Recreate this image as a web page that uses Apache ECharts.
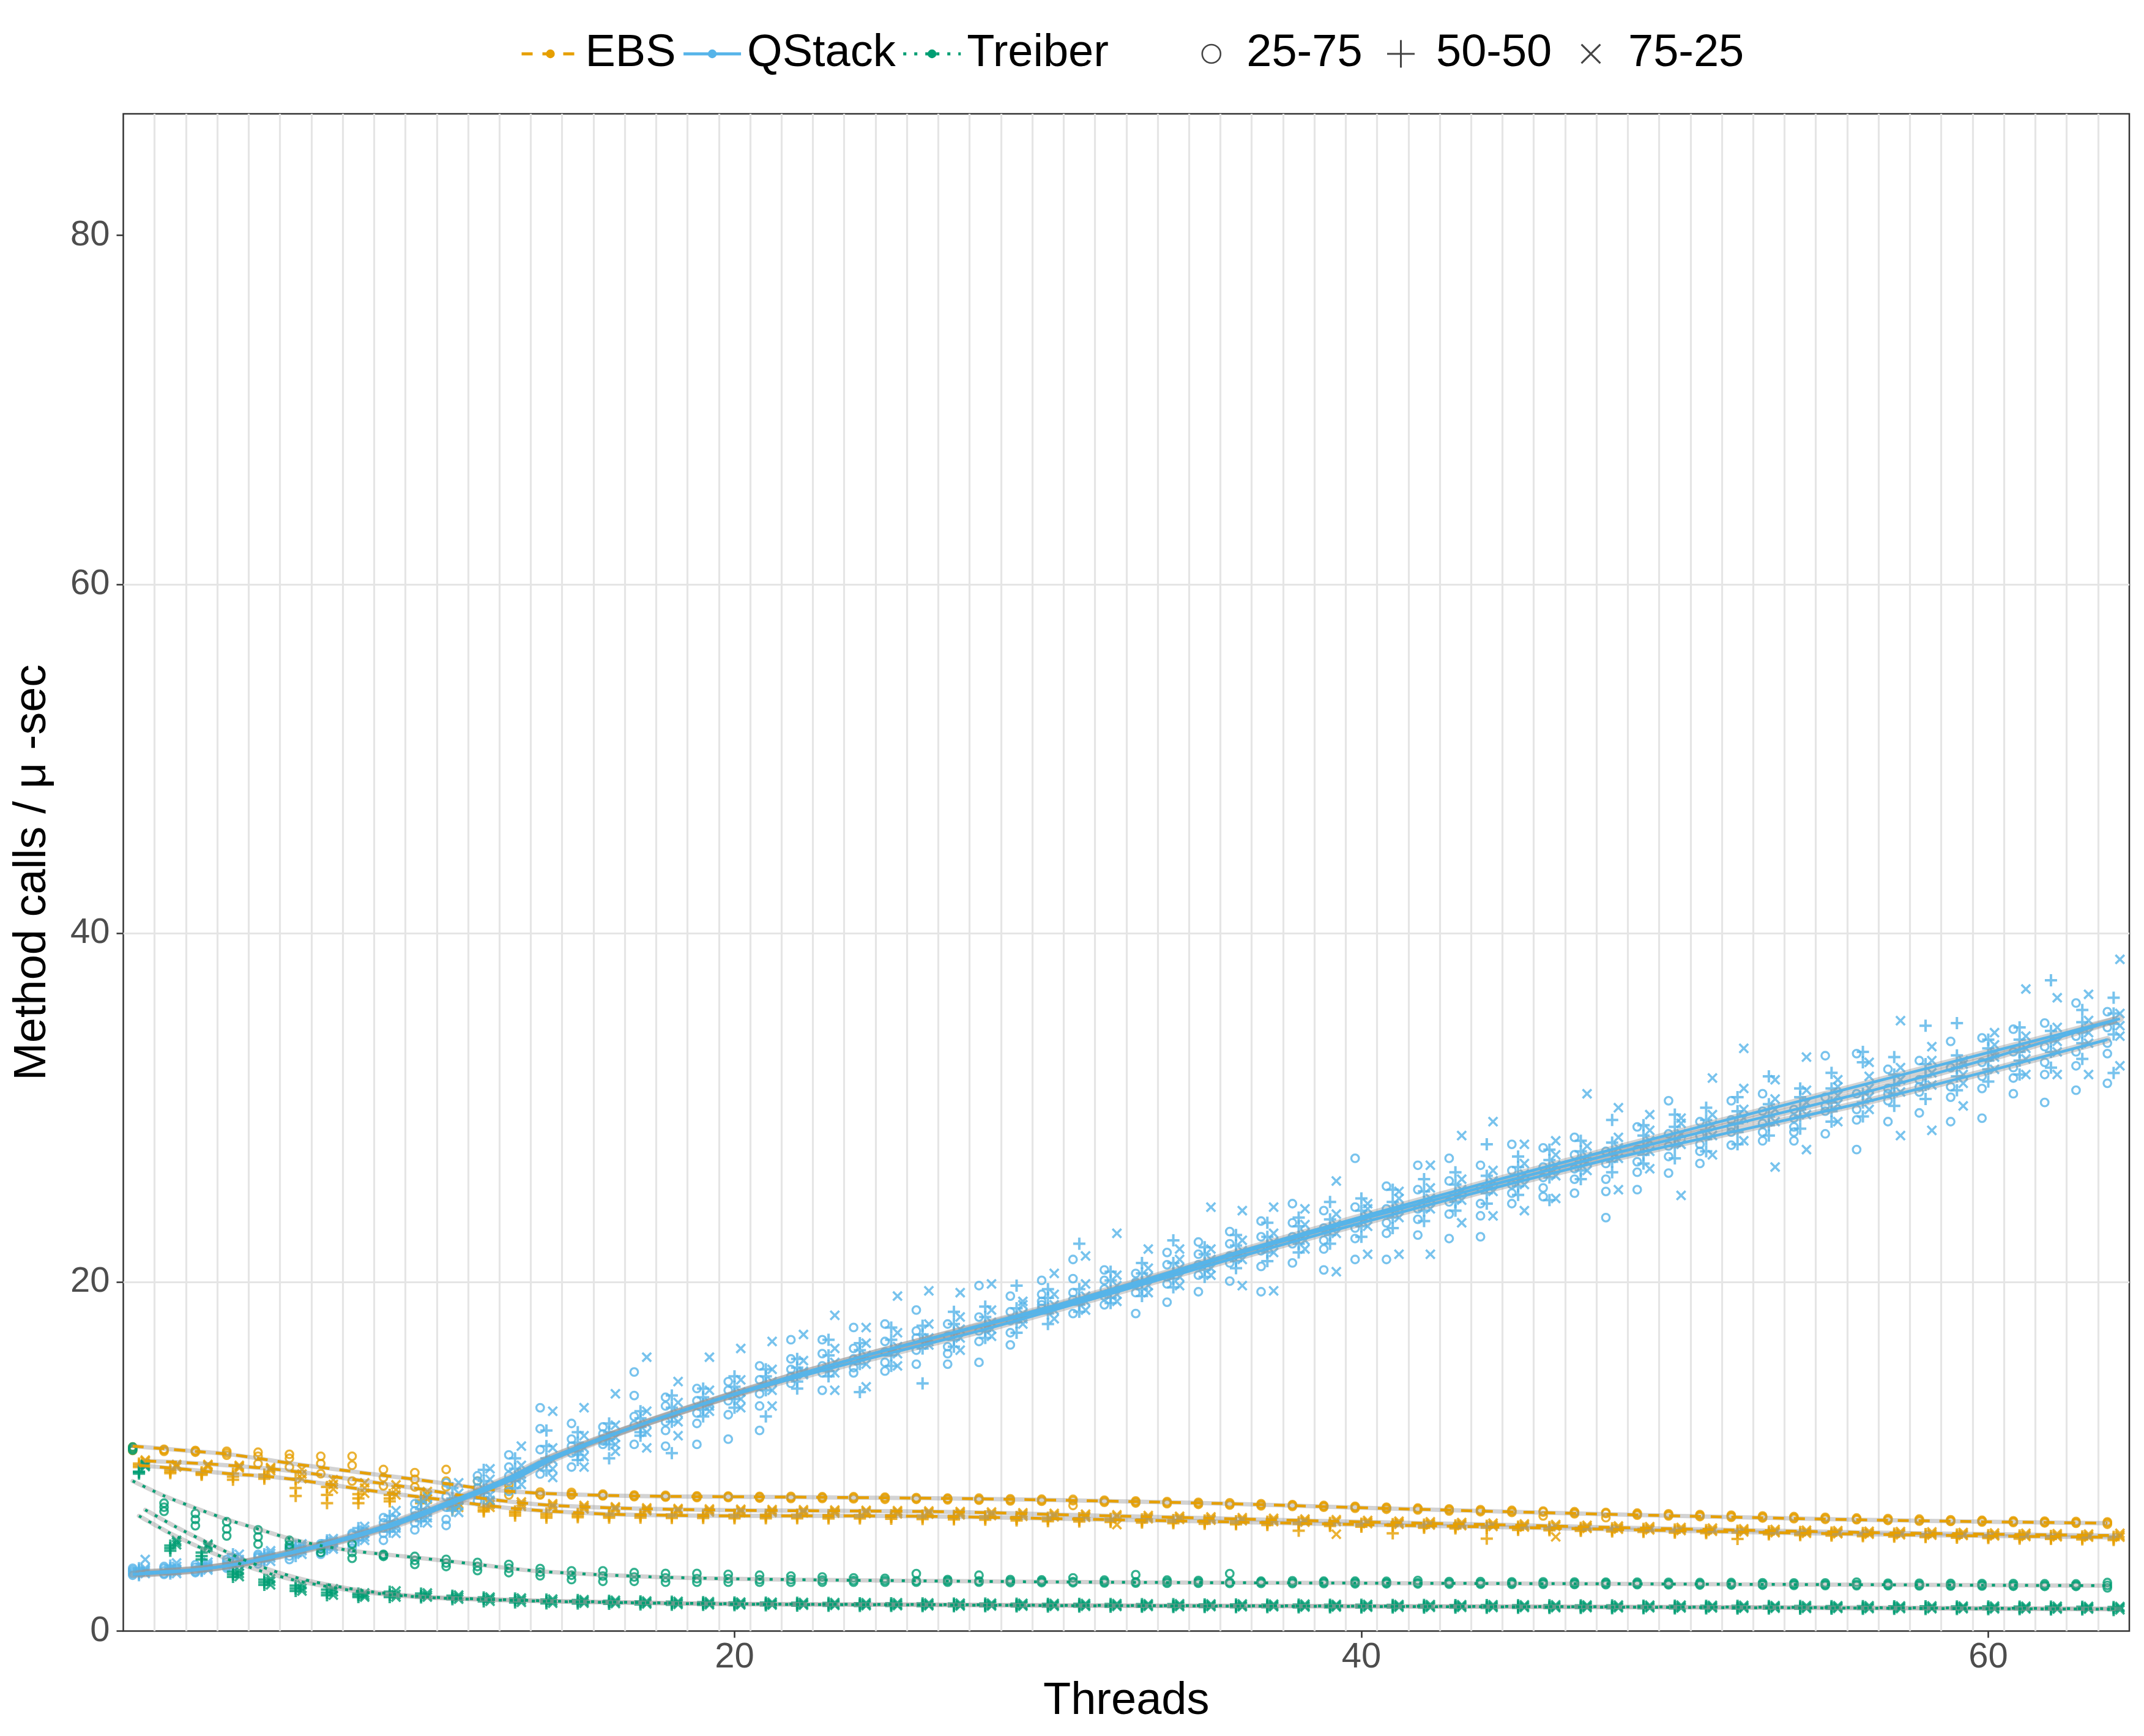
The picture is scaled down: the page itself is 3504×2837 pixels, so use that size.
<!DOCTYPE html>
<html>
<head>
<meta charset="utf-8">
<script src="https://cdn.jsdelivr.net/npm/echarts@6/dist/echarts.min.js"></script>
<style>
html,body{margin:0;padding:0;background:#fff;}
#chart{width:3504px;height:2837px;}
</style>
</head>
<body>
<div id="chart"></div>
<script>
// ---------------- data ----------------
const threads = [1,2,3,4,5,6,7,8,9,10,11,12,13,14,15,16,17,18,19,20,21,22,23,24,25,26,27,28,29,30,31,32,
  33,34,35,36,37,38,39,40,41,42,43,44,45,46,47,48,49,50,51,52,53,54,55,56,57,58,59,60,61,62,63,64];
const implementations = ['EBS','QStack','Treiber'];
const mixes = ['25-75','50-50','75-25'];
const yTickLabels = [0,20,40,60,80];
const xTickLabels = [20,40,60];

// runs per thread (method calls / µ-sec)
const qstack25 = [[3.2,3.5,3.3,3.6,3.4],[3.3,3.6,3.25,3.45,3.7],[3.4,3.8,3.5,3.65,3.35],[3.7,4.1,3.8,3.6,3.95],[4.0,4.4,3.85,4.2,4.3],
[4.3,4.85,4.5,4.1,4.65],[4.8,4.5,5.0,4.4,4.9],[5.3,5.6,4.75,5.05,5.5],[5.9,6.5,5.2,6.2,5.6],[6.6,7.3,5.8,6.9,6.2],
[7.1,8.5,6.4,7.7,6.05],[8.2,8.9,7.45,8.6,7.8],[8.6,10.1,8.0,9.4,8.9],[9.5,12.8,9.0,10.4,11.6],[10.2,11.9,9.4,11.0,10.6],
[11.0,11.7,10.7,11.3,10.9],[12.3,14.85,10.7,13.5,11.8],[12.0,13.4,10.6,12.9,11.5],[12.5,13.9,10.7,13.2,11.9],[13.2,14.3,11.0,13.8,12.4],
[13.6,15.2,11.5,14.4,12.9],[15.0,16.7,14.2,15.6,14.6],[14.8,16.7,13.8,15.9,15.2],[15.6,17.4,14.8,16.2,15.1],[16.0,17.6,14.9,16.6,15.4],
[16.8,18.4,15.3,17.2,16.1],[16.3,17.6,15.3,16.9,15.9],[17.2,19.8,15.4,18.0,16.6],[17.8,19.2,16.4,18.3,17.1],[18.9,20.1,18.5,19.3,18.7],
[19.4,21.3,18.2,20.2,19.0],[19.6,20.7,18.7,20.1,19.2],[19.9,20.5,18.2,19.4,20.0],[20.3,21.7,18.85,21.0,19.9],[21.0,22.3,19.45,21.6,20.4],
[21.5,22.9,20.06,22.2,21.1],[21.8,23.5,19.45,22.6,20.9],[22.6,24.5,21.1,23.4,22.2],[22.4,24.1,20.7,23.1,21.9],[23.1,27.1,21.3,24.3,22.5],
[23.4,25.5,21.3,24.2,22.8],[24.2,26.7,22.7,25.3,23.6],[24.6,27.1,22.5,25.8,23.9],[24.5,26.7,22.6,25.4,23.8],[25.6,27.9,24.5,26.4,25.1],
[26.0,27.7,24.9,26.6,25.4],[26.5,28.3,25.1,27.3,25.9],[25.9,27.5,23.7,26.8,25.2],[26.9,28.9,25.3,27.6,26.3],[27.8,30.4,26.25,28.5,27.2],
[27.9,29.2,26.8,28.4,27.5],[28.6,30.4,27.85,29.3,28.9],[29.1,30.8,28.1,29.8,28.6],[28.9,29.9,28.1,29.4,28.6],[29.8,32.98,28.5,30.6,30.1],
[29.9,33.1,27.6,30.8,29.3],[30.4,32.2,29.2,31.1,30.8],[30.9,32.7,29.7,31.6,31.2],[31.2,33.8,29.2,32.3,30.6],[31.8,34.0,29.4,32.6,31.1],
[32.3,34.5,30.8,33.2,31.7],[32.6,34.85,30.3,33.5,31.9],[33.2,36.0,31.0,34.1,32.4],[33.7,35.5,31.4,34.6,33.1]];

const qstack50 = [[3.3,3.5,3.2,3.6,3.4],[3.4,3.6,3.3,3.75,3.5],[3.5,3.7,3.45,3.85,3.6],[3.8,4.2,3.7,4.4,3.9],[4.1,4.4,4.0,4.3,4.2],
[4.5,4.8,4.3,4.9,4.6],[5.0,4.8,5.2,4.7,5.1],[5.5,5.9,5.2,5.7,5.4],[6.0,6.6,5.7,6.3,5.9],[6.7,7.4,6.3,7.0,6.5],
[7.3,8.2,6.9,7.6,7.1],[8.1,9.24,7.6,8.6,7.9],[8.8,9.9,8.2,9.3,8.6],[9.7,10.6,9.2,11.5,9.9],[10.3,11.4,9.8,10.8,10.1],
[11.0,11.9,9.9,11.4,10.7],[11.7,12.6,11.2,12.2,11.4],[12.3,13.5,10.2,12.8,12.0],[13.0,13.9,12.3,13.4,12.7],[13.6,14.6,12.8,14.0,13.3],
[14.2,15.0,12.3,14.6,13.8],[14.7,15.6,13.9,15.1,14.3],[15.2,16.7,14.6,15.8,14.9],[15.7,16.5,13.7,16.1,15.3],[16.1,17.4,15.2,16.7,15.8],
[16.6,17.5,14.2,17.0,16.2],[17.1,18.3,16.3,17.6,16.7],[17.5,18.6,16.8,18.0,17.2],[18.0,19.8,17.1,18.5,17.7],[18.5,19.6,17.6,19.1,18.2],
[19.0,22.2,18.3,19.6,18.7],[19.5,20.6,18.8,20.1,19.1],[20.0,21.1,19.2,20.5,19.6],[20.5,22.4,19.7,21.1,20.2],[21.1,22.0,20.3,21.6,20.7],
[21.6,22.7,20.8,22.1,21.2],[22.1,23.4,21.2,22.6,21.7],[22.6,23.7,21.7,23.2,22.2],[23.1,24.6,22.2,23.6,22.7],[23.6,24.8,22.6,24.1,23.2],
[24.1,25.3,23.1,24.6,23.7],[24.6,25.9,23.5,25.2,24.1],[25.0,26.3,24.1,25.6,24.6],[25.5,27.9,24.5,26.1,25.1],[25.9,27.2,25.0,26.6,25.5],
[26.4,27.6,24.7,27.0,26.0],[26.9,28.1,25.9,27.5,26.4],[27.3,29.3,26.3,28.0,26.9],[27.8,29.0,26.8,28.4,27.3],[28.2,29.6,27.1,28.9,27.8],
[28.7,30.0,27.5,29.3,28.2],[29.1,30.6,27.9,29.8,28.6],[29.5,31.8,28.4,30.2,29.0],[29.9,31.1,28.8,30.6,29.5],[30.3,32.0,29.2,31.1,29.8],
[30.8,33.2,29.5,32.6,30.3],[31.3,32.9,30.1,31.9,30.8],[31.8,34.7,30.5,32.5,31.3],[32.3,34.85,31.0,33.0,31.8],[32.7,33.9,31.5,33.4,32.2],
[33.2,34.6,31.9,33.9,32.7],[33.8,37.3,32.3,34.4,33.2],[34.3,35.6,32.8,34.9,33.7],[34.8,36.3,31.99,35.4,34.2]];

const qstack75 = [[3.4,3.6,3.3,4.1,3.5],[3.45,3.7,3.3,3.9,3.55],[3.6,3.8,3.5,3.95,3.7],[3.9,4.4,3.75,4.1,4.0],[4.2,4.6,4.0,4.45,4.3],
[4.6,5.0,4.4,4.85,4.7],[5.05,4.7,5.3,4.85,5.15],[5.6,6.0,5.2,5.8,5.4],[6.1,6.9,5.6,6.5,5.9],[6.8,7.7,6.2,7.2,6.5],
[7.5,8.5,6.8,7.9,7.2],[8.2,9.3,7.5,8.7,7.8],[9.0,10.6,8.8,9.5,8.4],[9.8,12.6,8.8,10.5,9.3],[10.5,12.8,9.4,11.2,10.0],
[11.1,13.6,10.3,11.8,10.7],[11.9,15.7,10.5,12.6,11.4],[12.5,14.3,11.2,13.1,12.0],[13.1,15.7,12.6,13.8,12.9],[13.7,16.2,12.8,14.4,13.3],
[14.3,16.6,12.9,15.0,13.8],[14.8,17.0,14.7,15.5,14.9],[15.4,18.1,13.8,16.2,14.8],[15.8,17.4,14.0,16.5,15.3],[16.3,19.2,15.2,17.1,15.9],
[16.8,19.5,16.4,17.6,16.6],[17.3,19.4,16.1,18.0,16.8],[17.7,19.9,16.9,18.4,17.3],[18.2,18.7,17.6,18.9,17.9],[18.7,20.5,17.9,19.3,18.4],
[19.2,21.5,18.4,19.9,18.9],[19.8,22.8,18.9,20.4,19.3],[20.3,21.9,19.4,20.8,19.8],[20.8,21.9,19.8,21.3,20.3],[21.3,24.3,20.4,21.9,20.8],
[21.8,24.1,19.8,22.4,21.3],[22.3,24.3,19.5,22.8,21.7],[22.8,24.2,21.9,23.3,22.4],[23.3,25.8,20.6,23.9,22.8],[23.8,24.5,21.6,24.2,23.2],
[24.3,25.2,21.6,24.8,23.7],[24.8,26.7,21.6,25.4,24.2],[25.3,28.4,23.4,25.9,24.7],[25.8,29.2,23.8,26.4,25.2],[26.2,27.9,24.1,26.8,25.6],
[26.7,28.1,24.8,27.3,26.1],[27.2,30.8,26.4,27.8,26.9],[27.7,30.0,25.3,28.3,27.1],[28.1,29.6,26.5,28.7,27.5],[28.5,29.4,24.97,29.1,27.9],
[29.0,31.7,27.3,29.6,28.4],[29.4,33.4,28.1,31.1,29.9],[29.9,31.6,26.6,30.5,29.2],[30.3,32.9,27.6,31.0,29.6],[30.7,31.6,29.2,31.2,30.2],
[31.1,32.6,29.9,31.8,30.6],[31.6,34.99,28.4,32.3,30.9],[32.0,33.5,28.7,32.7,31.3],[32.5,32.7,30.1,31.9,31.4],[32.9,34.3,32.2,33.6,33.1],
[33.4,36.8,31.9,34.1,32.8],[33.8,36.3,31.9,34.6,33.2],[34.3,36.5,31.9,35.0,33.7],[34.7,38.5,32.4,35.4,34.1]];

const ebs25 = [[10.45,10.35,10.55],[10.37,10.3,10.42],[10.31,10.25,10.35],[10.31,10.08,10.2],[10.25,10.02,9.6],[10.13,9.9,9.4],
[10.02,9.6,9.02],[10.02,9.5,8.6],[9.26,8.8,8.32],[9.08,8.7,8.26],[9.26,8.6,8.26],[8.6,8.2,7.9],[8.38,8.1,7.8],[7.97,7.85,7.8],
[7.95,7.85,7.8],[7.85,7.78,7.75],[7.8,7.75,7.7],[7.78,7.72,7.68],[7.75,7.7,7.65],[7.74,7.7,7.65],[7.72,7.68,7.62],[7.72,7.66,7.6],
[7.7,7.65,7.6],[7.7,7.64,7.58],[7.68,7.62,7.55],[7.65,7.6,7.55],[7.62,7.58,7.52],[7.62,7.55,7.5],[7.58,7.52,7.46],[7.56,7.5,7.44],
[7.55,7.47,7.2],[7.5,7.44,7.38],[7.46,7.4,7.34],[7.42,7.36,7.3],[7.38,7.32,7.26],[7.35,7.28,7.22],[7.3,7.24,7.18],[7.25,7.2,7.14],
[7.2,7.15,7.1],[7.15,7.1,7.04],[7.1,7.05,6.98],[7.05,7.0,6.94],[7.0,6.95,6.88],[6.96,6.9,6.84],[6.92,6.86,6.8],[6.88,6.82,6.6],
[6.84,6.78,6.72],[6.8,6.74,6.5],[6.76,6.7,6.64],[6.72,6.66,6.6],[6.68,6.62,6.56],[6.64,6.58,6.52],[6.6,6.54,6.48],[6.56,6.5,6.44],
[6.52,6.46,6.4],[6.48,6.42,6.38],[6.45,6.38,6.34],[6.42,6.35,6.3],[6.38,6.32,6.28],[6.35,6.3,6.25],[6.32,6.27,6.22],[6.3,6.25,6.2],
[6.28,6.22,6.18],[6.26,6.2,6.12]];

const ebs50 = [[9.5,9.6,9.4],[9.14,9.25,9.05],[9.02,9.1,8.95],[9.02,8.85,8.67],[8.97,8.85,8.73],[8.73,8.2,7.74],[8.26,7.8,7.33],
[7.85,7.6,7.33],[7.8,7.6,7.44],[7.68,7.5,7.33],[7.33,7.15,6.97],[7.09,6.95,6.86],[6.86,6.75,6.62],[6.74,6.62,6.5],[6.72,6.62,6.52],
[6.7,6.6,6.5],[6.68,6.6,6.5],[6.68,6.58,6.48],[6.66,6.58,6.48],[6.66,6.56,6.46],[6.66,6.56,6.46],[6.66,6.56,6.46],[6.65,6.55,6.45],
[6.65,6.55,6.45],[6.64,6.54,6.44],[6.62,6.52,6.42],[6.6,6.5,6.4],[6.58,6.48,6.38],[6.54,6.44,6.34],[6.5,6.4,6.3],[6.47,6.37,6.28],
[6.44,6.34,6.25],[6.4,6.3,6.22],[6.37,6.27,6.18],[6.34,6.24,6.15],[6.3,6.2,6.12],[6.27,6.17,6.08],[6.24,6.14,5.75],[6.2,6.1,6.02],
[6.16,6.06,5.98],[6.13,6.03,5.6],[6.1,6.0,5.92],[6.06,5.96,5.88],[6.03,5.93,5.3],[5.99,5.89,5.8],[5.96,5.86,5.78],[5.92,5.82,5.74],
[5.89,5.79,5.71],[5.86,5.76,5.68],[5.82,5.72,5.64],[5.79,5.69,5.61],[5.75,5.65,5.28],[5.72,5.62,5.54],[5.68,5.58,5.5],[5.65,5.55,5.47],
[5.62,5.52,5.44],[5.59,5.49,5.41],[5.56,5.46,5.38],[5.53,5.43,5.35],[5.5,5.4,5.33],[5.48,5.38,5.3],[5.45,5.35,5.28],[5.43,5.33,5.25],
[5.4,5.3,5.22]];

const ebs75 = [[9.73,9.6,9.8],[9.49,9.55,9.4],[9.49,9.42,9.55],[9.43,9.35,9.5],[9.37,9.3,9.2],[9.26,9.0,8.73],[8.67,8.4,8.14],
[8.5,8.2,7.9],[8.38,8.1,7.8],[8.0,7.8,7.56],[7.56,7.3,7.09],[7.44,7.25,7.09],[7.4,7.28,7.15],[7.3,7.2,7.1],[7.2,7.1,7.0],
[7.12,7.05,6.95],[7.06,6.98,6.9],[7.02,6.95,6.85],[7.0,6.92,6.82],[6.98,6.9,6.8],[6.96,6.88,6.8],[6.95,6.86,6.78],[6.94,6.85,6.76],
[6.92,6.84,6.74],[6.9,6.82,6.72],[6.88,6.8,6.7],[6.85,6.76,6.66],[6.82,6.72,6.62],[6.78,6.68,6.58],[6.74,6.64,6.55],[6.7,6.6,6.52],
[6.66,6.56,6.1],[6.62,6.52,6.44],[6.58,6.48,6.4],[6.54,6.44,6.36],[6.5,6.4,6.32],[6.46,6.36,6.28],[6.42,6.32,6.24],[6.38,6.28,5.55],
[6.34,6.24,6.16],[6.3,6.2,6.12],[6.26,6.16,6.08],[6.22,6.12,6.04],[6.18,6.08,6.0],[6.14,6.04,5.96],[6.1,6.0,5.4],[6.06,5.96,5.88],
[6.02,5.92,5.84],[5.98,5.88,5.8],[5.94,5.84,5.76],[5.9,5.8,5.72],[5.86,5.76,5.68],[5.82,5.72,5.64],[5.78,5.68,5.6],[5.75,5.65,5.58],
[5.72,5.62,5.55],[5.7,5.6,5.52],[5.68,5.58,5.5],[5.65,5.55,5.48],[5.62,5.52,5.45],[5.6,5.5,5.42],[5.58,5.48,5.4],[5.56,5.46,5.38],
[5.6,5.48,5.38]];

const treiber25 = [[10.55,10.45,10.37],[7.33,7.1,6.86],[6.74,6.4,6.04],[6.27,5.85,5.45],[5.8,5.4,4.98],[5.2,4.95,4.75],[4.88,4.7,4.5],
[4.98,4.5,4.17],[4.4,4.34,4.28],[4.28,4.05,3.82],[4.11,3.9,3.7],[3.93,3.7,3.47],[3.82,3.6,3.35],[3.58,3.38,3.17],[3.45,3.2,2.95],
[3.45,3.15,2.85],[3.35,3.1,2.85],[3.3,3.05,2.8],[3.3,3.0,2.8],[3.25,3.0,2.8],[3.2,2.95,2.8],[3.15,2.95,2.8],[3.1,2.92,2.8],
[3.05,2.9,2.8],[3.02,2.9,2.8],[3.29,2.88,2.8],[2.95,2.88,2.8],[3.2,2.87,2.8],[2.95,2.86,2.78],[2.93,2.85,2.78],[3.05,2.84,2.77],
[2.92,2.83,2.76],[3.23,2.82,2.75],[2.92,2.82,2.74],[2.9,2.81,2.74],[3.29,2.8,2.73],[2.86,2.8,2.73],[2.88,2.79,2.72],[2.86,2.79,2.72],
[2.86,2.78,2.71],[2.85,2.77,2.71],[2.9,2.77,2.7],[2.84,2.76,2.69],[2.84,2.75,2.69],[2.82,2.75,2.68],[2.82,2.74,2.68],[2.81,2.73,2.67],
[2.8,2.73,2.66],[2.8,2.72,2.66],[2.79,2.71,2.65],[2.78,2.7,2.64],[2.78,2.7,2.64],[2.77,2.69,2.63],[2.76,2.68,2.62],[2.76,2.67,2.61],
[2.8,2.67,2.6],[2.74,2.66,2.6],[2.74,2.65,2.59],[2.73,2.64,2.58],[2.72,2.64,2.58],[2.72,2.63,2.57],[2.71,2.62,2.56],[2.7,2.62,2.56],
[2.78,2.62,2.48]];

const treiber50 = [[9.14,9.02,9.1],[4.75,4.6,4.9],[4.5,4.3,4.1],[3.4,3.25,3.1],[2.95,2.8,2.65],[2.6,2.45,2.3],[2.38,2.2,2.05],
[2.15,2.05,1.95],[2.25,2.08,1.95],[2.15,2.02,1.93],[2.03,1.93,1.82],[1.93,1.83,1.7],[1.87,1.76,1.64],[1.81,1.7,1.59],[1.78,1.68,1.58],
[1.74,1.65,1.56],[1.7,1.62,1.53],[1.68,1.6,1.51],[1.66,1.58,1.5],[1.64,1.56,1.48],[1.63,1.55,1.47],[1.62,1.54,1.46],[1.61,1.53,1.45],
[1.6,1.52,1.44],[1.6,1.51,1.44],[1.59,1.5,1.43],[1.58,1.5,1.42],[1.58,1.49,1.42],[1.57,1.48,1.41],[1.56,1.48,1.4],[1.56,1.47,1.4],
[1.55,1.47,1.39],[1.54,1.46,1.39],[1.54,1.45,1.38],[1.53,1.45,1.38],[1.53,1.44,1.37],[1.52,1.44,1.37],[1.52,1.43,1.36],[1.51,1.43,1.36],
[1.51,1.42,1.35],[1.5,1.42,1.35],[1.5,1.41,1.34],[1.49,1.41,1.34],[1.49,1.4,1.33],[1.48,1.4,1.33],[1.48,1.39,1.32],[1.47,1.39,1.32],
[1.47,1.38,1.31],[1.46,1.38,1.31],[1.46,1.37,1.3],[1.45,1.37,1.3],[1.45,1.36,1.29],[1.44,1.36,1.29],[1.44,1.35,1.28],[1.43,1.35,1.28],
[1.43,1.34,1.27],[1.42,1.34,1.27],[1.42,1.33,1.26],[1.41,1.33,1.26],[1.41,1.32,1.25],[1.4,1.32,1.25],[1.4,1.31,1.24],[1.39,1.31,1.24],
[1.38,1.3,1.2]];

const treiber75 = [[9.55,9.43,9.5],[5.1,4.95,5.2],[4.98,4.8,4.9],[3.47,3.3,3.12],[3.0,2.85,2.65],[2.65,2.45,2.3],[2.42,2.25,2.06],
[2.18,2.05,1.95],[2.3,2.1,1.95],[2.18,2.05,1.95],[2.06,1.95,1.83],[1.95,1.85,1.71],[1.89,1.78,1.65],[1.83,1.72,1.6],[1.8,1.7,1.6],
[1.76,1.67,1.58],[1.72,1.63,1.55],[1.7,1.61,1.53],[1.68,1.59,1.51],[1.66,1.57,1.5],[1.65,1.56,1.49],[1.64,1.55,1.48],[1.63,1.54,1.47],
[1.62,1.53,1.46],[1.62,1.53,1.46],[1.61,1.52,1.45],[1.6,1.51,1.44],[1.6,1.51,1.44],[1.59,1.5,1.43],[1.58,1.49,1.42],[1.58,1.49,1.42],
[1.57,1.48,1.41],[1.56,1.48,1.41],[1.56,1.47,1.4],[1.55,1.47,1.4],[1.55,1.46,1.39],[1.54,1.46,1.39],[1.54,1.45,1.38],[1.53,1.45,1.38],
[1.53,1.44,1.37],[1.52,1.44,1.37],[1.52,1.43,1.36],[1.51,1.43,1.36],[1.51,1.42,1.35],[1.5,1.42,1.35],[1.5,1.41,1.34],[1.49,1.41,1.34],
[1.49,1.4,1.33],[1.48,1.4,1.33],[1.48,1.39,1.32],[1.47,1.39,1.32],[1.47,1.38,1.31],[1.46,1.38,1.31],[1.46,1.37,1.3],[1.45,1.37,1.3],
[1.45,1.36,1.29],[1.44,1.36,1.29],[1.44,1.35,1.28],[1.43,1.35,1.28],[1.43,1.34,1.27],[1.42,1.34,1.27],[1.42,1.33,1.26],[1.41,1.33,1.26],
[1.4,1.32,1.22]];

// smoothed trend at these thread counts
const fitThreads = [1,2,3,4,5,6,7,8,9,10,11,12,13,14,16,18,20,22,24,26,28,30,33,36,40,44,48,52,56,60,64];
const fitEBS25 = [10.6,10.45,10.3,10.15,9.9,9.62,9.38,9.15,8.92,8.7,8.45,8.2,8.02,7.9,7.78,7.72,7.7,7.68,7.65,7.62,7.58,7.52,7.42,7.3,7.08,6.88,6.7,6.53,6.38,6.27,6.18];
const fitEBS50 = [9.5,9.35,9.18,9.0,8.88,8.68,8.42,8.15,7.9,7.68,7.45,7.22,7.02,6.88,6.7,6.63,6.6,6.6,6.6,6.58,6.52,6.45,6.35,6.25,6.1,5.97,5.83,5.68,5.55,5.45,5.37];
const fitEBS75 = [9.75,9.68,9.58,9.45,9.3,9.1,8.85,8.6,8.35,8.08,7.8,7.55,7.35,7.2,7.05,6.97,6.92,6.9,6.88,6.85,6.78,6.68,6.55,6.42,6.25,6.1,5.93,5.78,5.65,5.55,5.47];
const fitQS25 = [3.25,3.35,3.5,3.75,4.1,4.5,4.95,5.45,6.0,6.65,7.35,8.05,8.8,9.7,11.1,12.3,13.45,14.45,15.4,16.3,17.2,18.2,19.75,21.3,23.3,25.2,27.0,28.6,30.2,32.0,33.9];
const fitQS50 = [3.3,3.4,3.55,3.8,4.15,4.55,5.0,5.5,6.05,6.7,7.4,8.1,8.85,9.8,11.2,12.45,13.6,14.7,15.7,16.65,17.55,18.45,20.0,21.6,23.6,25.5,27.35,29.1,30.85,32.8,35.0];
const fitQS75 = [3.35,3.45,3.6,3.85,4.2,4.6,5.05,5.55,6.1,6.75,7.45,8.15,8.9,9.85,11.3,12.55,13.7,14.8,15.8,16.75,17.7,18.65,20.2,21.8,23.85,25.8,27.7,29.55,31.4,33.25,35.1];
const fitTR25 = [8.6,7.75,7.05,6.4,5.85,5.3,4.9,4.6,4.4,4.22,4.02,3.82,3.6,3.42,3.22,3.08,3.0,2.95,2.91,2.88,2.85,2.82,2.79,2.77,2.75,2.73,2.71,2.68,2.66,2.63,2.6];
const fitTR50 = [6.6,5.6,4.75,4.0,3.38,2.9,2.55,2.27,2.08,1.94,1.86,1.8,1.75,1.7,1.64,1.58,1.54,1.52,1.51,1.5,1.48,1.46,1.44,1.43,1.41,1.39,1.37,1.34,1.31,1.28,1.25];
const fitTR75 = [6.95,5.95,5.05,4.2,3.5,2.98,2.6,2.3,2.1,1.96,1.88,1.82,1.77,1.72,1.66,1.6,1.56,1.54,1.53,1.52,1.5,1.48,1.46,1.45,1.43,1.41,1.39,1.37,1.34,1.31,1.28];

// ---------------- styling ----------------
const FONT = '"Liberation Sans", Arial, Helvetica, sans-serif';
const colors = {EBS:'#E69F00', QStack:'#56B4E9', Treiber:'#009E73'};
const lineDash = {EBS:[18,16], QStack:'solid', Treiber:[5,13]};
const bandWidth = {EBS:7, QStack:12, Treiber:7};
const dodge = {'25-75':-0.2, '50-50':0, '75-25':0.2};
const PLUS = 'path://M8,0H12V8H20V12H12V20H8V12H0V8H8Z';
const CROSS = 'path://M0,3L3,0L10,7L17,0L20,3L13,10L20,17L17,20L10,13L3,20L0,17L7,10Z';
const PLUS_KEY = 'path://M9.33,0H10.67V9.33H20V10.67H10.67V20H9.33V10.67H0V9.33H9.33Z';
const CROSS_KEY = 'path://M0,1.3L1.3,0L10,8.7L18.7,0L20,1.3L11.3,10L20,18.7L18.7,20L10,11.3L1.3,20L0,18.7L8.7,10Z';
const shape = {'25-75':'circle', '50-50':PLUS, '75-25':CROSS};
const keyShape = {'25-75':'circle', '50-50':PLUS_KEY, '75-25':CROSS_KEY};
const shapeSize = {'25-75':12.5, '50-50':20, '75-25':17};

const runs = {
  EBS:{'25-75':ebs25,'50-50':ebs50,'75-25':ebs75},
  QStack:{'25-75':qstack25,'50-50':qstack50,'75-25':qstack75},
  Treiber:{'25-75':treiber25,'50-50':treiber50,'75-25':treiber75}
};
const fits = {
  EBS:{'25-75':fitEBS25,'50-50':fitEBS50,'75-25':fitEBS75},
  QStack:{'25-75':fitQS25,'50-50':fitQS50,'75-25':fitQS75},
  Treiber:{'25-75':fitTR25,'50-50':fitTR50,'75-25':fitTR75}
};

const series = [];
implementations.forEach(impl => {
  mixes.forEach(mix => {
    const data = [];
    threads.forEach((t, i) => runs[impl][mix][i].forEach(v => data.push([t + dodge[mix], v])));
    const isCircle = mix === '25-75';
    series.push({
      type:'scatter', name: mix, data, symbol: shape[mix], symbolSize: shapeSize[mix],
      itemStyle: isCircle ? {color:'rgba(0,0,0,0)', borderColor: colors[impl], borderWidth:3.3}
                          : {color: colors[impl]},
      z:2, silent:true, animation:false, emphasis:{disabled:true}
    });
  });
});
implementations.forEach(impl => {
  mixes.forEach(mix => {
    const data = fitThreads.map((t, i) => [t + dodge[mix], fits[impl][mix][i]]);
    series.push({
      type:'line', name: impl + ' se', data, symbol:'none', smooth:0.2,
      lineStyle:{color:'rgba(150,150,150,0.42)', width: bandWidth[impl], cap:'round'},
      z:3, silent:true, animation:false
    });
    series.push({
      type:'line', name: impl, data, symbol:'circle', symbolSize:11, showSymbol:false, smooth:0.2,
      lineStyle:{color: colors[impl], width:4.5, type: lineDash[impl], cap:'butt'},
      itemStyle:{color: colors[impl]},
      z:4, silent:true, animation:false
    });
  });
});

// one legend box per shape key so each sits where the reference puts it
const shapeLegendLeft = {'25-75':1958.5, '50-50':2262, '75-25':2578.5};
const shapeLegendSize = {'25-75':30, '50-50':45, '75-25':33};
const shapeLegendPad = {'25-75':37.5, '50-50':30, '75-25':39.5};
const shapeLegends = mixes.map(m => ({
  data:[{name:m, icon:keyShape[m],
    itemStyle: m==='25-75' ? {color:'rgba(0,0,0,0)', borderColor:'#444', borderWidth:2.6, opacity:1}
                           : {color:'#444', borderWidth:0, opacity:1}}],
  left: shapeLegendLeft[m], top:46, itemWidth:shapeLegendSize[m], itemHeight:shapeLegendSize[m], symbolKeepAspect:true,
  textStyle:{fontSize:74, color:'#000', fontFamily:FONT, padding:[0,0,0,shapeLegendPad[m]]},
  selectedMode:false
}));

const option = {
  backgroundColor:'#ffffff',
  animation:false,
  textStyle:{fontFamily: FONT},
  grid:{left:201.5, right:24, top:186, bottom:171.5, show:true, borderColor:'#333333', borderWidth:2.5, backgroundColor:'rgba(0,0,0,0)', containLabel:false},
  legend:[
    {data: implementations, left:845, top:46, orient:'horizontal', itemWidth:94, itemHeight:18, itemGap:10,
     lineStyle:{width:5},
     textStyle:{fontSize:74, color:'#000', fontFamily:FONT, padding:[0,0,0,5]}, selectedMode:false}
  ].concat(shapeLegends),
  xAxis:[
    {type:'value', min:0.5, max:64.5, position:'bottom',
     name:'Threads', nameLocation:'middle', nameGap:78,
     nameTextStyle:{fontSize:74, color:'#000', fontFamily:FONT},
     axisLine:{show:false},
     axisTick:{show:true, customValues:xTickLabels, length:11, lineStyle:{color:'#333', width:2.5}},
     axisLabel:{show:true, customValues:xTickLabels, margin:14, fontSize:58, color:'#4D4D4D', fontFamily:FONT},
     splitLine:{show:false}},
    {type:'value', min:0, max:64, interval:1, position:'top', gridIndex:0,
     axisLine:{show:false}, axisTick:{show:false}, axisLabel:{show:false},
     splitLine:{show:true, showMinLine:false, showMaxLine:false, lineStyle:{color:'#E5E5E5', width:3.2}}}
  ],
  yAxis:[
    {type:'value', min:0, max:86.97, interval:5,
     name:'Method calls / \u03BC -sec', nameLocation:'middle', nameGap:111,
     nameTextStyle:{fontSize:74, color:'#000', fontFamily:FONT},
     axisLine:{show:false},
     axisTick:{show:true, customValues:yTickLabels, length:11, lineStyle:{color:'#333', width:2.5}},
     axisLabel:{show:true, customValues:yTickLabels, margin:22, fontSize:58, color:'#4D4D4D', fontFamily:FONT},
     splitLine:{show:true, showMinLine:false, showMaxLine:false, lineStyle:{color:'#E5E5E5', width:3.2}}}
  ],
  series
};

const chart = echarts.init(document.getElementById('chart'), null, {renderer:'canvas', width:3504, height:2837});
chart.setOption(option);
</script>
</body>
</html>
